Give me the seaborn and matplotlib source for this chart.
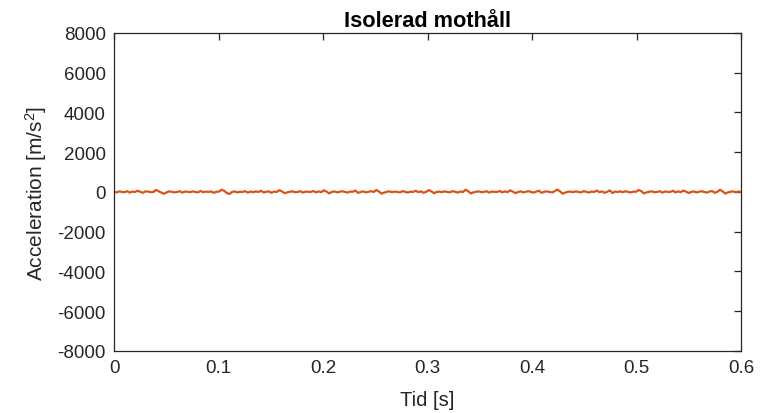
import numpy as np
import pandas as pd
import matplotlib
matplotlib.use("Agg")
import matplotlib.pyplot as plt
import seaborn as sns

# Acceleration samples (m/s^2), evenly spaced over 0..0.6 s
accel = [
    10, -20, 30, 0, -10, 40, -30, 20, 0, 60, 10, -40, 30, 20, -10, 0,
    100, 40, -30, -90, -20, 30, 10, -20, 0, 40, -30, 20, 10, -10, 30, 0,
    -20, 50, -10, 20, 0, 30, -40, 10, 20, 110, 60, -50, -100, 0, 30, -20,
    10, 0, 40, -30, 20, -10, 30, 0, 60, -20, 10, 30, -40, 20, 0, 90,
    30, -60, -20, 10, 30, -10, 0, 40, -30, 20, 10, 0, 50, -20, 30, -10,
    80, 20, -70, 0, 30, -20, 10, 40, 0, -30, 20, 10, 70, -40, 0, 30,
    -20, 10, 40, 0, 100, 20, -80, -30, 10, 30, -10, 20, 0, -20, 40, 10,
    -30, 20, 0, 60, -10, 30, -40, 10, 90, 30, -60, 0, 20, -10, 30, 0,
    -20, 40, 10, -30, 20, 0, 110, 40, -70, -20, 10, 30, -10, 0, 40, -30,
    20, 10, 0, 50, -20, 30, -10, 80, 20, -60, 0, 30, -20, 10, 40, 0,
    -30, 20, 60, -40, 10, 30, 0, -20, 40, 120, 30, -80, -30, 10, 20, -10,
    30, 0, -20, 40, 10, -30, 20, 0, 70, -10, 30, -40, 10, 80, -50, 20,
    0, 30, -10, 40, 0, -20, 20, 10, 100, 40, -70, -20, 10, 30, -10, 0,
    40, -30, 20, 10, 0, 60, -20, 30, -10, 70, 20, -50, 0, 30, -20, 10,
    40, 0, -30, 20, 50, -40, 10, 110, 30, -80, -20, 10, 30, -10, 20, 0,
]
t = np.linspace(0, 0.6, len(accel))

xticks = [0, 0.1, 0.2, 0.3, 0.4, 0.5, 0.6]
xtick_labels = ["0", "0.1", "0.2", "0.3", "0.4", "0.5", "0.6"]
yticks = [-8000, -6000, -4000, -2000, 0, 2000, 4000, 6000, 8000]

df = pd.DataFrame({"t": t, "a": accel})

sns.set_theme(style="white")
plt.rcParams["font.family"] = ["Liberation Sans", "DejaVu Sans"]
plt.rcParams["mathtext.fontset"] = "custom"
plt.rcParams["mathtext.rm"] = "Liberation Sans"

fig = plt.figure(figsize=(7.73, 4.14), dpi=100)
ax = fig.add_axes([0.1475, 0.1498, 0.8111, 0.7681])

sns.lineplot(data=df, x="t", y="a", ax=ax, color="#D95319", linewidth=1.6)

ax.set_xlim(0, 0.6)
ax.set_ylim(-8000, 8000)
ax.set_xticks(xticks)
ax.set_xticklabels(xtick_labels)
ax.set_yticks(yticks)
ax.set_yticklabels([str(v) for v in yticks])

for s in ax.spines.values():
    s.set_visible(True)
    s.set_color("#262626")
    s.set_linewidth(0.9)

ax.tick_params(direction="in", length=5, width=0.9, colors="#262626",
               top=True, right=True, labelsize=13.5, pad=6)
for lbl in ax.get_xticklabels() + ax.get_yticklabels():
    lbl.set_color("#262626")

ax.set_xlabel("Tid [s]", fontsize=14.5, color="#262626", labelpad=10)
ax.set_ylabel("Acceleration [m/s$\\mathregular{^2}$]", fontsize=15, color="#262626", labelpad=6)
ax.set_title("Isolerad mothåll", fontsize=15.7, fontweight="bold", color="black", pad=5)

fig.savefig("out.png", dpi=100)
